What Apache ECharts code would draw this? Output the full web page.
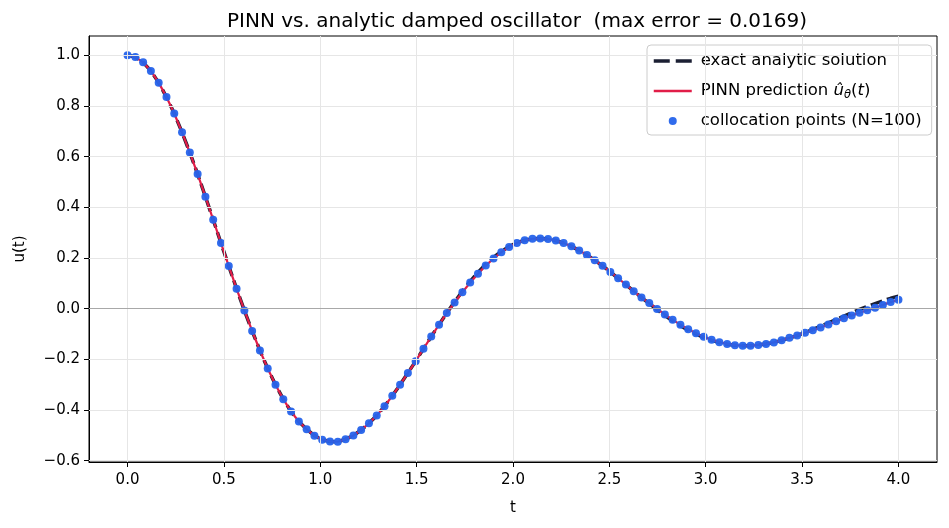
<!DOCTYPE html>
<html>
<head>
<meta charset="utf-8">
<title>PINN vs. analytic damped oscillator</title>
<script src="https://cdn.jsdelivr.net/npm/echarts@6.0.0/dist/echarts.min.js"></script>
<style>
    html, body { margin: 0; padding: 0; background: #fff; }
    #myChart { width: 949px; height: 528px; }
</style>
</head>
<body>
<div id="myChart"></div>
<script>
    // collocation times (N=100, 0..4)
    var tValues = [
        0.0000, 0.0404, 0.0808, 0.1212, 0.1616, 0.2020, 0.2424, 0.2828, 0.3232, 0.3636,
        0.4040, 0.4444, 0.4848, 0.5253, 0.5657, 0.6061, 0.6465, 0.6869, 0.7273, 0.7677,
        0.8081, 0.8485, 0.8889, 0.9293, 0.9697, 1.0101, 1.0505, 1.0909, 1.1313, 1.1717,
        1.2121, 1.2525, 1.2929, 1.3333, 1.3737, 1.4141, 1.4545, 1.4949, 1.5354, 1.5758,
        1.6162, 1.6566, 1.6970, 1.7374, 1.7778, 1.8182, 1.8586, 1.8990, 1.9394, 1.9798,
        2.0202, 2.0606, 2.1010, 2.1414, 2.1818, 2.2222, 2.2626, 2.3030, 2.3434, 2.3838,
        2.4242, 2.4646, 2.5051, 2.5455, 2.5859, 2.6263, 2.6667, 2.7071, 2.7475, 2.7879,
        2.8283, 2.8687, 2.9091, 2.9495, 2.9899, 3.0303, 3.0707, 3.1111, 3.1515, 3.1919,
        3.2323, 3.2727, 3.3131, 3.3535, 3.3939, 3.4343, 3.4747, 3.5152, 3.5556, 3.5960,
        3.6364, 3.6768, 3.7172, 3.7576, 3.7980, 3.8384, 3.8788, 3.9192, 3.9596, 4.0000
    ];

    // exact analytic solution u(t)
    var exactValues = [
        1.000, 0.993, 0.972, 0.938, 0.892, 0.835, 0.770, 0.696, 0.616, 0.531,
        0.442, 0.351, 0.259, 0.168, 0.079, -0.007, -0.088, -0.165, -0.236, -0.300,
        -0.357, -0.406, -0.445, -0.476, -0.501, -0.517, -0.524, -0.525, -0.515, -0.500,
        -0.479, -0.452, -0.422, -0.385, -0.344, -0.300, -0.254, -0.207, -0.158, -0.110,
        -0.063, -0.017, 0.027, 0.069, 0.108, 0.143, 0.175, 0.202, 0.226, 0.245,
        0.260, 0.270, 0.276, 0.277, 0.275, 0.269, 0.259, 0.246, 0.230, 0.212,
        0.191, 0.169, 0.145, 0.120, 0.095, 0.069, 0.044, 0.020, -0.004, -0.027,
        -0.048, -0.067, -0.085, -0.100, -0.114, -0.125, -0.134, -0.140, -0.144, -0.146,
        -0.146, -0.143, -0.139, -0.133, -0.125, -0.116, -0.106, -0.094, -0.082, -0.069,
        -0.056, -0.043, -0.029, -0.016, -0.003, 0.009, 0.020, 0.031, 0.041, 0.049
    ];

    // PINN prediction at the collocation points
    var pinnValues = [
        1.000, 0.993, 0.972, 0.938, 0.892, 0.835, 0.770, 0.696, 0.616, 0.531,
        0.442, 0.351, 0.259, 0.168, 0.079, -0.007, -0.088, -0.165, -0.236, -0.300,
        -0.357, -0.406, -0.445, -0.476, -0.501, -0.517, -0.524, -0.525, -0.515, -0.500,
        -0.479, -0.452, -0.422, -0.385, -0.344, -0.300, -0.254, -0.207, -0.158, -0.110,
        -0.063, -0.017, 0.024, 0.065, 0.103, 0.138, 0.170, 0.198, 0.223, 0.243,
        0.259, 0.270, 0.276, 0.277, 0.275, 0.269, 0.259, 0.246, 0.230, 0.212,
        0.191, 0.169, 0.145, 0.120, 0.095, 0.069, 0.044, 0.022, -0.001, -0.023,
        -0.044, -0.063, -0.081, -0.097, -0.111, -0.123, -0.132, -0.139, -0.144, -0.146,
        -0.146, -0.143, -0.139, -0.133, -0.125, -0.115, -0.106, -0.095, -0.085, -0.074,
        -0.062, -0.050, -0.038, -0.027, -0.016, -0.006, 0.004, 0.015, 0.026, 0.035
    ];

    var xTickValues = [0, 0.5, 1.0, 1.5, 2.0, 2.5, 3.0, 3.5, 4.0];
    var yTickValues = [-0.6, -0.4, -0.2, 0.0, 0.2, 0.4, 0.6, 0.8, 1.0];

    var FONT = 'DejaVu Sans';

    function pairs(ys) {
        return tValues.map(function (t, i) { return [t, ys[i]]; });
    }

    function tickText(v) {
        return v.toFixed(1).replace('-', '\u2212');
    }

    // grid lines + horizontal zero line
    var gridLines = [];
    xTickValues.forEach(function (v) { gridLines.push({xAxis: v}); });
    yTickValues.forEach(function (v) {
        if (v !== 0) gridLines.push({yAxis: v});
    });
    gridLines.push({yAxis: 0, lineStyle: {color: '#a8a8a8', width: 1, type: 'solid'}});

    var myChart = echarts.init(document.getElementById('myChart'), null, {renderer: 'canvas'});

    var option = {
        animation: false,
        backgroundColor: '#ffffff',
        textStyle: {fontFamily: FONT},
        title: {
            text: 'PINN vs. analytic damped oscillator  (max error = 0.0169)',
            left: 222,
            top: 7,
            textStyle: {fontFamily: FONT, fontSize: 20, fontWeight: 'normal', color: '#000'}
        },
        grid: {
            left: 89, right: 12, top: 36, bottom: 66,
            show: true,
            borderColor: '#000',
            borderWidth: 1,
            backgroundColor: 'transparent'
        },
        legend: {
            orient: 'vertical',
            left: 647,
            top: 45,
            padding: [6, 10, 4, 5],
            itemGap: 10,
            itemWidth: 38,
            itemHeight: 8,
            backgroundColor: 'rgba(255,255,255,0.8)',
            borderColor: '#cccccc',
            borderWidth: 1,
            borderRadius: 4,
            selectedMode: false,
            data: [
                {name: 'exact analytic solution', itemStyle: {opacity: 0},
                    lineStyle: {width: 3.5, type: [16, 6], color: '#1b1f33'}},
                {name: 'PINN prediction', itemStyle: {opacity: 0},
                    lineStyle: {width: 2.5, color: '#e11d48'}},
                {name: 'collocation points (N=100)', icon: 'circle'}
            ],
            formatter: function (name) {
                if (name === 'PINN prediction') {
                    return '{n|PINN prediction }{i|\u00fb}{s|\u03b8}{n|(}{i|t}{n|)}';
                }
                return name;
            },
            textStyle: {
                fontFamily: FONT,
                fontSize: 16.5,
                lineHeight: 20,
                color: '#000',
                padding: [0, 0, 0, 4],
                rich: {
                    n: {fontFamily: FONT, fontSize: 16.5, lineHeight: 20, color: '#000'},
                    i: {fontFamily: FONT, fontSize: 16.5, lineHeight: 20, fontStyle: 'italic', color: '#000'},
                    s: {fontFamily: FONT, fontSize: 11.5, lineHeight: 12, fontStyle: 'italic', color: '#000', verticalAlign: 'bottom'}
                }
            }
        },
        xAxis: {
            type: 'value',
            min: -0.2,
            max: 4.2,
            name: 't',
            nameLocation: 'middle',
            nameGap: 39,
            nameTextStyle: {fontFamily: FONT, fontSize: 15, color: '#000'},
            axisLine: {show: true, onZero: false, lineStyle: {color: '#000', width: 1}},
            axisTick: {show: true, length: 5, customValues: xTickValues, lineStyle: {color: '#000', width: 1}},
            axisLabel: {
                customValues: xTickValues,
                margin: 11,
                fontFamily: FONT, fontSize: 15, color: '#000',
                formatter: tickText
            },
            splitLine: {show: false}
        },
        yAxis: {
            type: 'value',
            min: -0.605,
            max: 1.076,
            name: 'u(t)',
            nameLocation: 'middle',
            nameGap: 61,
            nameTextStyle: {fontFamily: FONT, fontSize: 15, color: '#000'},
            axisLine: {show: true, onZero: false, lineStyle: {color: '#000', width: 1}},
            axisTick: {show: true, length: 5, customValues: yTickValues, lineStyle: {color: '#000', width: 1}},
            axisLabel: {
                customValues: yTickValues,
                margin: 9,
                fontFamily: FONT, fontSize: 15, color: '#000',
                formatter: tickText
            },
            splitLine: {show: false}
        },
        series: [
            {
                name: 'grid',
                type: 'line',
                data: [],
                z: 1,
                silent: true,
                markLine: {
                    silent: true,
                    symbol: ['none', 'none'],
                    label: {show: false},
                    lineStyle: {color: '#e6e6e6', width: 1, type: 'solid'},
                    data: gridLines
                }
            },
            {
                name: 'exact analytic solution',
                type: 'line',
                data: pairs(exactValues),
                symbol: 'none',
                showSymbol: false,
                z: 2,
                color: '#1b1f33',
                lineStyle: {color: '#1b1f33', width: 3.5, type: [12, 5]}
            },
            {
                name: 'PINN prediction',
                type: 'line',
                data: pairs(pinnValues),
                symbol: 'none',
                showSymbol: false,
                z: 3,
                color: '#e11d48',
                lineStyle: {color: '#e11d48', width: 2.2}
            },
            {
                name: 'collocation points (N=100)',
                type: 'scatter',
                data: pairs(pinnValues),
                symbol: 'circle',
                symbolSize: 8,
                z: 4,
                itemStyle: {color: '#2563eb', opacity: 0.95}
            }
        ]
    };

    myChart.setOption(option);
</script>
</body>
</html>
